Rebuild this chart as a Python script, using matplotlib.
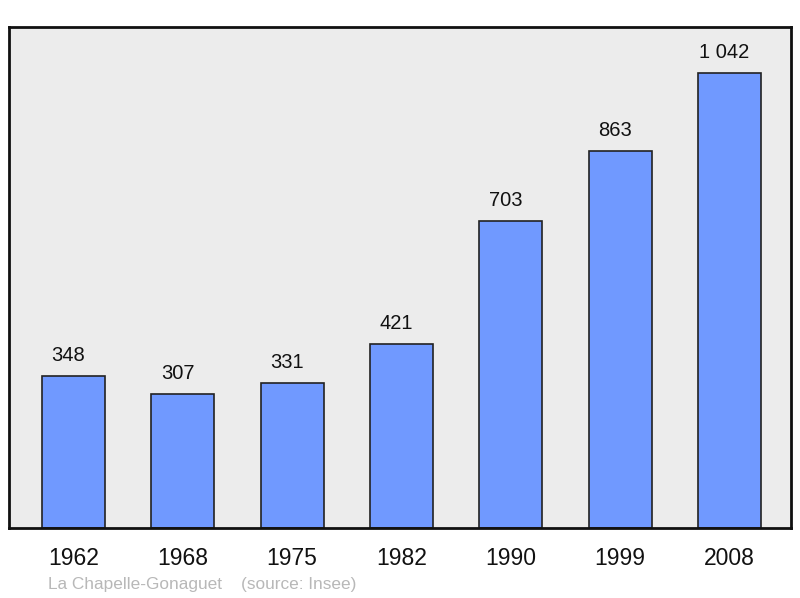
import matplotlib.pyplot as plt

plt.rcParams['font.family'] = ['Liberation Sans', 'DejaVu Sans']

years = ['1962', '1968', '1975', '1982', '1990', '1999', '2008']
population = [348, 307, 331, 421, 703, 863, 1042]
value_labels = ['348', '307', '331', '421', '703', '863', '1 042']

fig = plt.figure(figsize=(8, 5.98), dpi=100)
ax = fig.add_axes([9 / 800, 70 / 598, 782 / 800, 501 / 598])
ax.set_facecolor('#ececec')

pos = range(len(years))
bars = ax.bar(pos, population, width=0.576, color='#7099ff',
              edgecolor='#222222', linewidth=1.2, zorder=2)
for b, lab in zip(bars, value_labels):
    # labels sit a bit left of the bar centre, as in the original
    ax.annotate(lab, (b.get_x() + b.get_width() / 2, b.get_height()),
                xytext=(-3.8, 14.8), textcoords='offset points',
                ha='center', va='center', fontsize=14.5, color='#111111')

ax.set_xlim(-0.59, 6.563)
ax.set_ylim(0, 1147)
ax.set_yticks([])
ax.set_xticks(list(pos))
ax.set_xticklabels(years, fontsize=16.5, color='#111111')
ax.tick_params(axis='x', length=0, pad=13.5)
for s in ax.spines.values():
    s.set_linewidth(2)
    s.set_color('#111111')

fig.text(48 / 800, 1 - 584 / 598, 'La Chapelle-Gonaguet    (source: Insee)',
         fontsize=12.4, color='#b8b8b8', va='center', ha='left')

fig.savefig('out.png', dpi=100)
